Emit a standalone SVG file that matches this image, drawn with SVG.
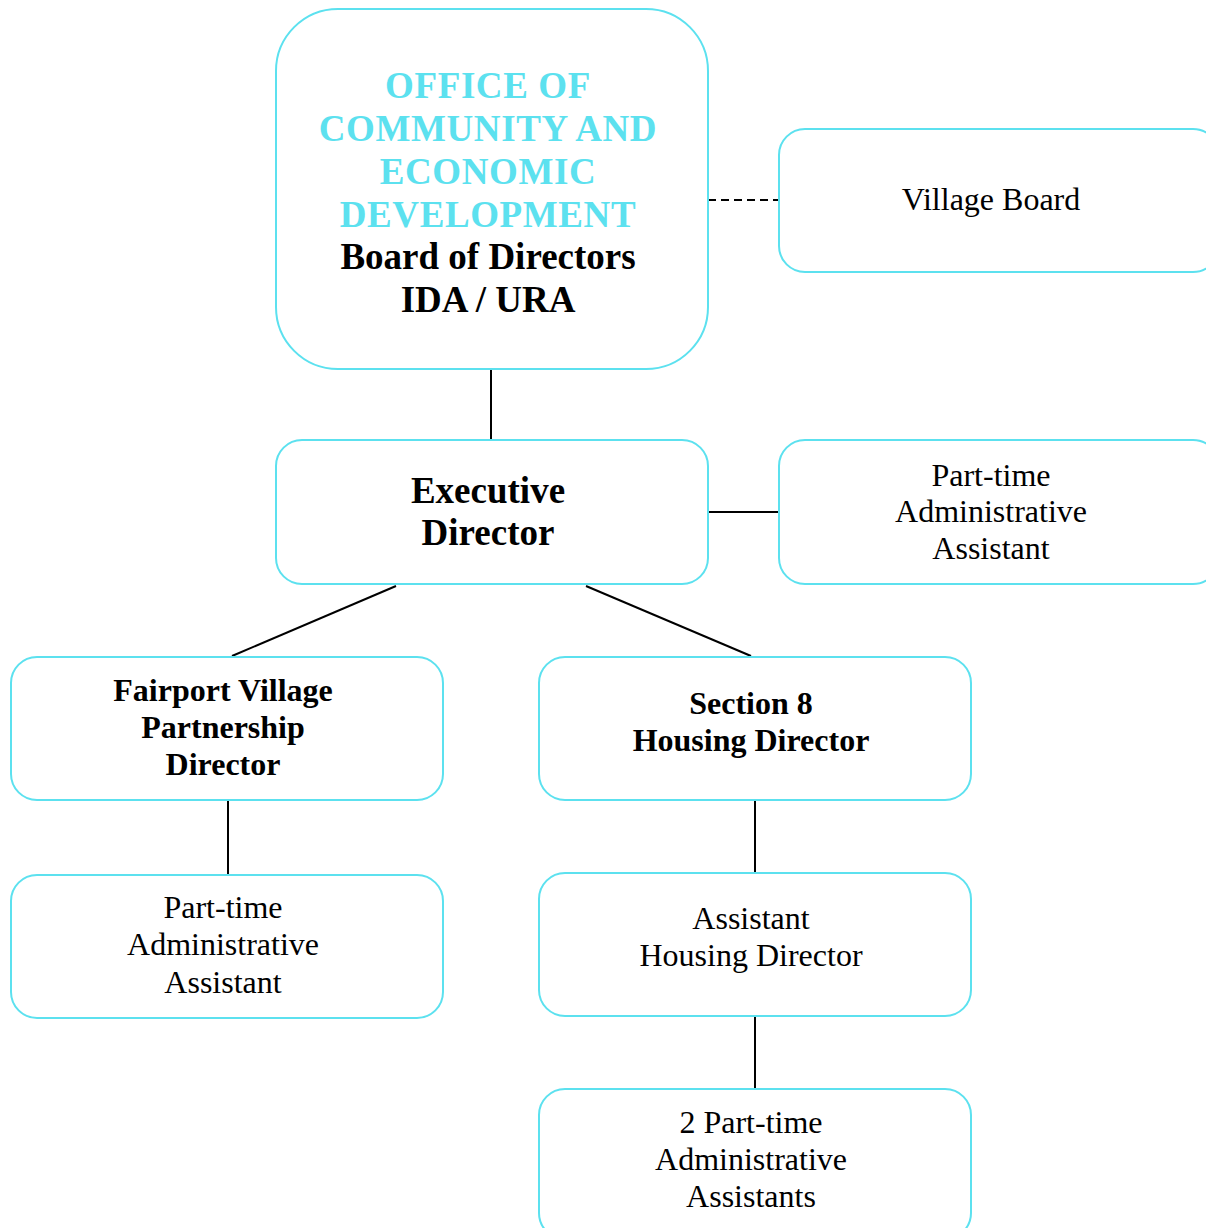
<svg xmlns="http://www.w3.org/2000/svg" width="1206" height="1228" viewBox="0 0 1206 1228">
<style>
.box{fill:#fff;stroke:#5ce1ef;stroke-width:2}
.t{font-family:"Liberation Serif","Times New Roman",serif;text-anchor:middle;fill:#000}
.b{font-weight:bold}
.big{font-size:37px}
.med{font-size:32px}
.cy{fill:#5ce1ef;letter-spacing:0.6px}
.ln{stroke:#000;stroke-width:2;fill:none}
</style>
<rect width="1206" height="1228" fill="#fff"/>
<g id="connectors">
<line class="ln" x1="708" y1="200" x2="779" y2="200" stroke-dasharray="8,5"/>
<line class="ln" x1="491" y1="369" x2="491" y2="440"/>
<line class="ln" x1="708" y1="512" x2="779" y2="512"/>
<line class="ln" x1="396" y1="586" x2="232" y2="656"/>
<line class="ln" x1="586" y1="586" x2="751" y2="656"/>
<line class="ln" x1="228" y1="800" x2="228" y2="875"/>
<line class="ln" x1="755" y1="800" x2="755" y2="873"/>
<line class="ln" x1="755" y1="1016" x2="755" y2="1089"/>
</g>
<g id="office">
<rect class="box" x="276" y="9" width="432" height="360" rx="62"/>
<text class="t b big cy" x="488" y="98">OFFICE OF</text>
<text class="t b big cy" x="488" y="141">COMMUNITY AND</text>
<text class="t b big cy" x="488" y="184">ECONOMIC</text>
<text class="t b big cy" x="488" y="227">DEVELOPMENT</text>
<text class="t b big" x="488" y="269">Board of Directors</text>
<text class="t b big" x="488" y="312">IDA / URA</text>
</g>
<g id="village-board">
<rect class="box" x="779" y="129" width="440" height="143" rx="26"/>
<text class="t med" x="991" y="210">Village Board</text>
</g>
<g id="executive-director">
<rect class="box" x="276" y="440" width="432" height="144" rx="26"/>
<text class="t b big" x="488" y="503">Executive</text>
<text class="t b big" x="488" y="545">Director</text>
</g>
<g id="admin-assistant-top">
<rect class="box" x="779" y="440" width="440" height="144" rx="26"/>
<text class="t med" x="991" y="486">Part-time</text>
<text class="t med" x="991" y="522">Administrative</text>
<text class="t med" x="991" y="559">Assistant</text>
</g>
<g id="fairport">
<rect class="box" x="11" y="657" width="432" height="143" rx="26"/>
<text class="t b med" x="223" y="701">Fairport Village</text>
<text class="t b med" x="223" y="738">Partnership</text>
<text class="t b med" x="223" y="775">Director</text>
</g>
<g id="section8">
<rect class="box" x="539" y="657" width="432" height="143" rx="26"/>
<text class="t b med" x="751" y="714">Section 8</text>
<text class="t b med" x="751" y="751">Housing Director</text>
</g>
<g id="admin-assistant-left">
<rect class="box" x="11" y="875" width="432" height="143" rx="26"/>
<text class="t med" x="223" y="918">Part-time</text>
<text class="t med" x="223" y="955">Administrative</text>
<text class="t med" x="223" y="993">Assistant</text>
</g>
<g id="assistant-housing">
<rect class="box" x="539" y="873" width="432" height="143" rx="26"/>
<text class="t med" x="751" y="929">Assistant</text>
<text class="t med" x="751" y="966">Housing Director</text>
</g>
<g id="admin-assistants">
<rect class="box" x="539" y="1089" width="432" height="150" rx="26"/>
<text class="t med" x="751" y="1133">2 Part-time</text>
<text class="t med" x="751" y="1170">Administrative</text>
<text class="t med" x="751" y="1207">Assistants</text>
</g>
</svg>
